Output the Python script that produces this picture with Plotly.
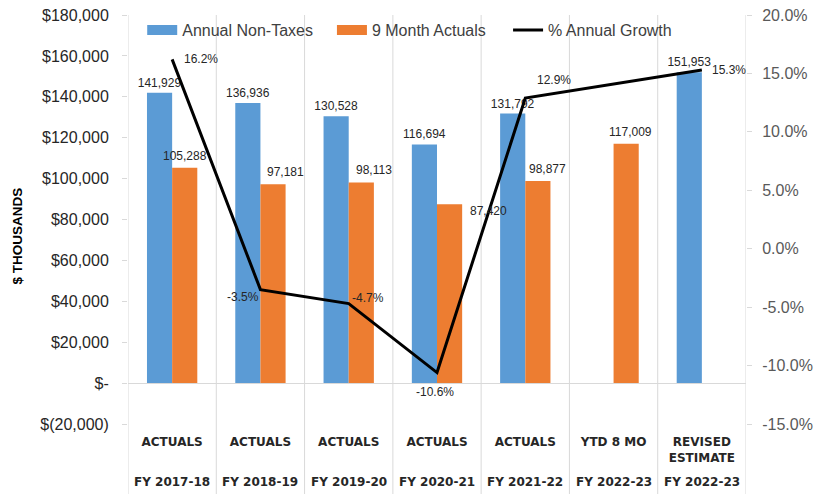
import plotly.graph_objects as go

# ---- data ----
fy_labels = ["FY 2017-18", "FY 2018-19", "FY 2019-20", "FY 2020-21", "FY 2021-22", "FY 2022-23", "FY 2022-23"]
stage_labels = ["ACTUALS", "ACTUALS", "ACTUALS", "ACTUALS", "ACTUALS", "YTD 8 MO", "REVISED<br>ESTIMATE"]
annual_non_taxes = [141929, 136936, 130528, 116694, 131792, None, 151953]
nine_month_actuals = [105288, 97181, 98113, 87420, 98877, 117009, None]
annual_growth = [0.162, -0.035, -0.047, -0.106, 0.129, None, 0.153]
left_tick_vals = [-20000, 0, 20000, 40000, 60000, 80000, 100000, 120000, 140000, 160000, 180000]
left_tick_text = ["$(20,000)", "$-", "$20,000", "$40,000", "$60,000", "$80,000", "$100,000",
                  "$120,000", "$140,000", "$160,000", "$180,000"]
right_tick_vals = [-0.15, -0.10, -0.05, 0.0, 0.05, 0.10, 0.15, 0.20]
right_tick_text = ["-15.0%", "-10.0%", "-5.0%", "0.0%", "5.0%", "10.0%", "15.0%", "20.0%"]

# label placement offsets (pixels) - styling only
growth_dx = [29, -17, 19, -2, 29, 0, 27]
growth_dy = [0, -7, 6, -19, 18, 0, 0]
orange_dx = [0, 13, 13, 39, 10, 4, 0]
orange_dy = [0, 0, 0, -19, 0, 0, 0]

idx = list(range(len(stage_labels)))

BLUE = "#5B9BD5"
ORANGE = "#ED7D31"
GRID = "#D9D9D9"
FONT = "Liberation Sans"
TXT = "#262626"

def fmt(v):
    return "" if v is None else f"{v:,}"

fig = go.Figure()
fig.add_trace(go.Bar(
    x=idx, y=annual_non_taxes, name="Annual Non-Taxes", showlegend=False,
    marker=dict(color=BLUE, line=dict(width=0)),
    text=[fmt(v) for v in annual_non_taxes], textposition="outside", constraintext="none",
    textfont=dict(family=FONT, size=12, color=TXT), cliponaxis=False,
    offsetgroup="a",
))
fig.add_trace(go.Bar(
    x=idx, y=nine_month_actuals, name="9 Month Actuals", showlegend=False,
    marker=dict(color=ORANGE, line=dict(width=0)),
    offsetgroup="b",
))
fig.add_trace(go.Scatter(
    x=idx, y=annual_growth, name="% Annual Growth", yaxis="y2", showlegend=False,
    mode="lines", connectgaps=True,
    line=dict(color="black", width=3),
    cliponaxis=False,
))

# legend entries (Excel-style wide swatches)
fig.add_trace(go.Scatter(x=[None], y=[None], mode="lines", name="Annual Non-Taxes",
                         line=dict(color=BLUE, width=10), legend="legend"))
fig.add_trace(go.Scatter(x=[None], y=[None], mode="lines", name="9 Month Actuals",
                         line=dict(color=ORANGE, width=10), legend="legend2"))
fig.add_trace(go.Scatter(x=[None], y=[None], mode="lines", name="% Annual Growth",
                         line=dict(color="black", width=3), legend="legend3"))

# orange bar value labels
for i, v, dx, dy in zip(idx, nine_month_actuals, orange_dx, orange_dy):
    if v is None:
        continue
    fig.add_annotation(x=i, y=v, xref="x", yref="y", text=fmt(v), showarrow=False,
                       yanchor="bottom", xshift=12.5 + dx, yshift=3 + dy,
                       font=dict(family=FONT, size=12, color=TXT))

# growth line labels
for i, v, dx, dy in zip(idx, annual_growth, growth_dx, growth_dy):
    if v is None:
        continue
    fig.add_annotation(x=i, y=v, xref="x", yref="y2", text=f"{v*100:.1f}%", showarrow=False,
                       xshift=dx, yshift=dy, font=dict(family=FONT, size=12, color=TXT))

# category boundary lines extending through label area
for b in [i - 0.5 for i in idx] + [idx[-1] + 0.5]:
    fig.add_shape(type="line", xref="x", yref="paper", x0=b, x1=b, y0=-0.175, y1=1,
                  line=dict(color=GRID, width=1), layer="below")

# outer (fiscal year) labels
for i, fy in zip(idx, fy_labels):
    fig.add_annotation(x=i, y=-0.142, xref="x", yref="paper", text=fy, showarrow=False,
                       yanchor="middle", font=dict(family="DejaVu Sans", size=12, color=TXT, weight="bold"))

# y-axis title
fig.add_annotation(x=-0.194, y=0.46, xref="paper", yref="paper", text="$ THOUSANDS", textangle=-90,
                   showarrow=False, font=dict(family=FONT, size=13.5, color="black", weight="bold"))

leg_common = dict(orientation="h", y=0.963, xanchor="left", yanchor="middle",
                  font=dict(family=FONT, size=16, color="#404040"), bgcolor="rgba(0,0,0,0)",
                  itemwidth=30)

fig.update_layout(
    width=815, height=494,
    margin=dict(l=128, r=69, t=15, b=70, autoexpand=False),
    paper_bgcolor="white", plot_bgcolor="white",
    barmode="group", bargap=0.43, bargroupgap=0,
    showlegend=True,
    legend=dict(x=0.023, **leg_common),
    legend2=dict(x=0.330, **leg_common),
    legend3=dict(x=0.615, **leg_common),
    xaxis=dict(range=[-0.5, len(idx) - 0.5], tickvals=idx, ticktext=stage_labels, automargin=False,
               showgrid=False, zeroline=False, showline=False, ticks="", ticklabelstandoff=9,
               tickfont=dict(family="DejaVu Sans", size=12, color=TXT, weight="bold")),
    yaxis=dict(range=[-20000, 180000], tickvals=left_tick_vals, ticktext=left_tick_text, automargin=False,
               showgrid=False, zeroline=True, zerolinecolor=GRID, zerolinewidth=1,
               showline=False, ticks="outside", ticklen=5, tickcolor=GRID, ticklabelstandoff=10,
               tickfont=dict(family=FONT, size=16, color=TXT)),
    yaxis2=dict(range=[-0.15, 0.20], tickvals=right_tick_vals, ticktext=right_tick_text,
                overlaying="y", side="right", automargin=False, ticklabelstandoff=7,
                showgrid=False, zeroline=False, showline=False, ticks="outside", ticklen=5, tickcolor=GRID,
                tickfont=dict(family=FONT, size=16, color="#595959")),
)

fig.write_html("out.html", config={"displayModeBar": False},
               post_script="document.body.style.margin='0px';")
